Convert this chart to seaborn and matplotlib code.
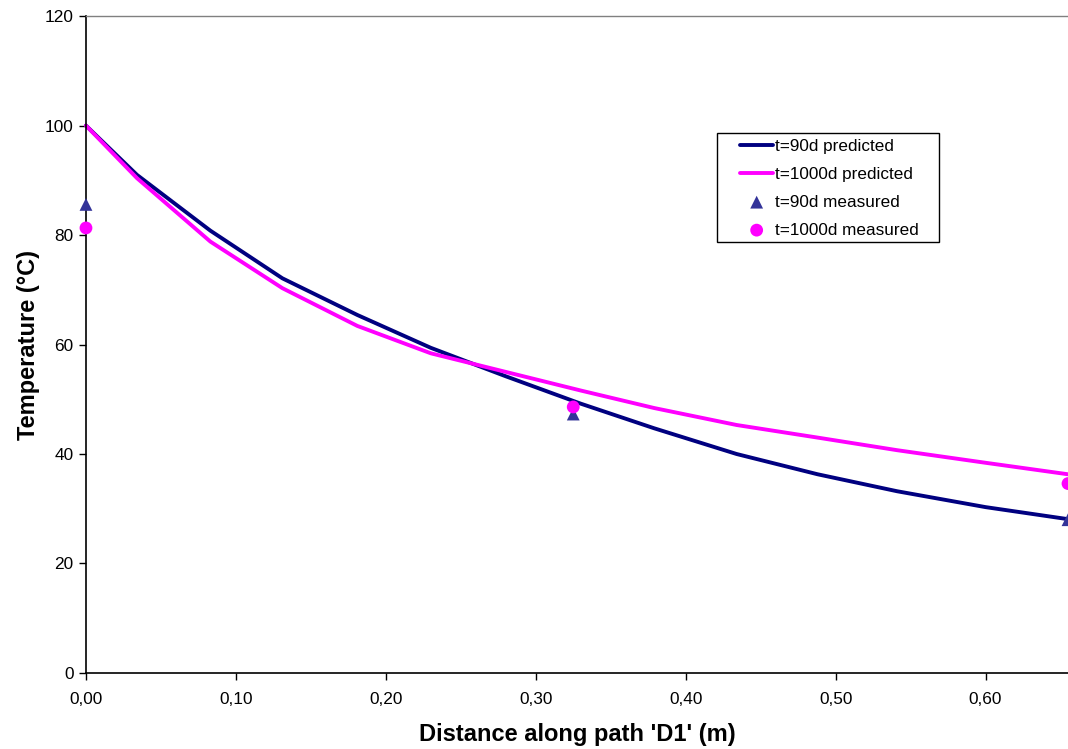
import numpy as np
import pandas as pd
import matplotlib
matplotlib.use("Agg")
import matplotlib.pyplot as plt
import seaborn as sns
from matplotlib.ticker import FuncFormatter
from matplotlib.patches import Rectangle

# ================================
# Data
# ================================
dist = [0.0, 0.034, 0.083, 0.131, 0.181, 0.230, 0.280, 0.330, 0.379, 0.434, 0.488, 0.541, 0.600, 0.655]
temp_90d_pred = [100.0, 91.0, 80.8, 72.1, 65.4, 59.4, 54.2, 49.2, 44.7, 40.0, 36.3, 33.2, 30.3, 28.1]
temp_1000d_pred = [100.0, 90.4, 78.8, 70.3, 63.4, 58.4, 55.0, 51.6, 48.4, 45.3, 43.0, 40.7, 38.4, 36.3]

meas_dist = [0.0, 0.325, 0.655]
temp_90d_meas = [85.6, 47.3, 28.0]
temp_1000d_meas = [81.3, 48.6, 34.6]

pred = pd.DataFrame({"dist": dist, "t90": temp_90d_pred, "t1000": temp_1000d_pred})
meas = pd.DataFrame({"dist": meas_dist, "t90": temp_90d_meas, "t1000": temp_1000d_meas})

# ================================
# Plot
# ================================
sns.set_style("white")
plt.rcParams['font.family'] = ['Liberation Sans', 'DejaVu Sans']
plt.rcParams['text.color'] = 'black'
plt.rcParams['axes.labelcolor'] = 'black'

fig = plt.figure(figsize=(10.68, 7.49), dpi=100)
ax = fig.add_axes([0.0805, 0.1015, 0.9195, 0.877])

sns.lineplot(data=pred, x="dist", y="t90", color="#000080", linewidth=2.8,
             label="t=90d predicted", ax=ax, clip_on=False)
sns.lineplot(data=pred, x="dist", y="t1000", color="#FF00FF", linewidth=2.8,
             label="t=1000d predicted", ax=ax, clip_on=False)
sns.scatterplot(data=meas, x="dist", y="t90", color="#333399", marker="^", s=85,
                edgecolor="none", label="t=90d measured", ax=ax, clip_on=False, zorder=3)
sns.scatterplot(data=meas, x="dist", y="t1000", color="#FF00FF", marker="o", s=85,
                edgecolor="none", label="t=1000d measured", ax=ax, clip_on=False, zorder=4)

ax.set_xlim(0, 0.655)
ax.set_ylim(0, 120)
ax.set_xticks(np.arange(0, 0.61, 0.1))
ax.set_yticks(np.arange(0, 121, 20))
ax.xaxis.set_major_formatter(FuncFormatter(lambda v, p: f"{v:.2f}".replace(".", ",")))

ax.tick_params(axis="both", which="major", direction="out", length=5, width=1,
               colors="black", labelsize=12.4, bottom=True, left=True)
ax.tick_params(axis="x", pad=9)
ax.tick_params(axis="y", pad=4)

for side in ["left", "bottom"]:
    ax.spines[side].set_color("black")
    ax.spines[side].set_linewidth(1.2)
ax.spines["top"].set_color("#808080")
ax.spines["top"].set_linewidth(1.0)
ax.spines["right"].set_visible(False)

ax.set_xlabel("Distance along path 'D1' (m)", fontsize=17, fontweight="bold", labelpad=11)
ax.set_ylabel("Temperature (°C)", fontsize=17, fontweight="bold", labelpad=3)

# legend without its own frame; box drawn separately (wider side padding, like Excel)
leg = ax.legend(loc="upper left", bbox_to_anchor=(0.666, 0.8134), fontsize=12.3,
                frameon=False, handlelength=1.95, handletextpad=0.1, borderpad=0,
                labelspacing=0.76, borderaxespad=0)
ax.add_patch(Rectangle((0.6426, 0.656), 0.226, 0.1659, transform=ax.transAxes,
                       facecolor="white", edgecolor="black", linewidth=1.0, zorder=5))
leg.set_zorder(6)

fig.savefig("out.png", dpi=100)
